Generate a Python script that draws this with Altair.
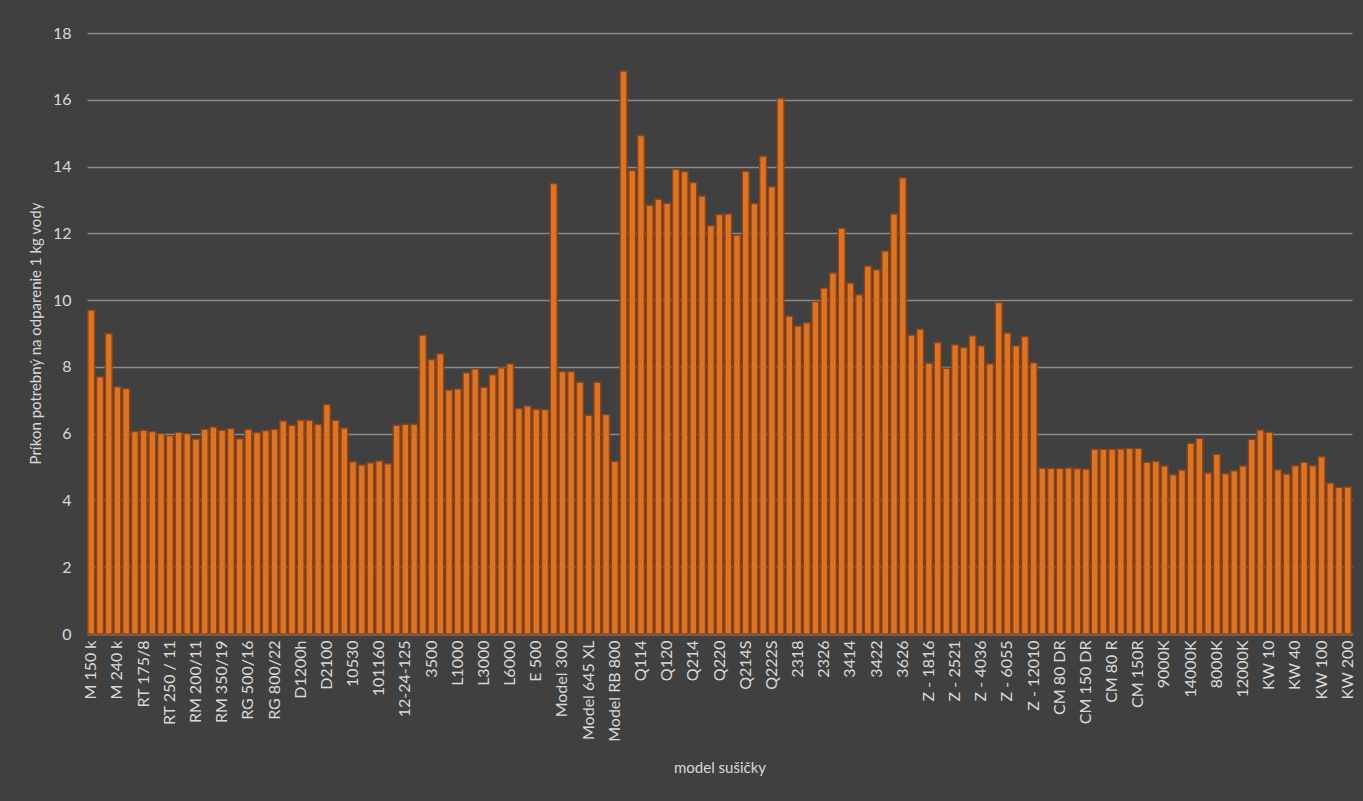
import json
import altair as alt
import pandas as pd

tick_labels = [
    "M 150 k", "M 240 k", "RT 175/8", "RT 250 / 11", "RM 200/11", "RM 350/19",
    "RG 500/16", "RG 800/22", "D1200h", "D2100", "10530", "101160", "12-24-125",
    "3500", "L1000", "L3000", "L6000", "E 500", "Model 300", "Model 645 XL",
    "Model RB 800", "Q114", "Q120", "Q214", "Q220", "Q214S", "Q222S", "2318",
    "2326", "3414", "3422", "3626", "Z - 1816", "Z - 2521", "Z - 4036", "Z - 6055",
    "Z - 12010", "CM 80 DR", "CM 150 DR", "CM 80 R", "CM 150R", "9000K", "14000K",
    "8000K", "12000K", "KW 10", "KW 40", "KW 100", "KW 200",
]

values = [
    9.7, 7.7, 9.0, 7.4, 7.35, 6.06, 6.1, 6.06, 6.0, 5.94,
    6.04, 6.0, 5.84, 6.13, 6.2, 6.1, 6.15, 5.85, 6.13, 6.03,
    6.09, 6.13, 6.38, 6.25, 6.4, 6.4, 6.28, 6.87, 6.4, 6.17,
    5.16, 5.06, 5.13, 5.18, 5.1, 6.25, 6.28, 6.28, 8.95, 8.22,
    8.39, 7.31, 7.34, 7.82, 7.94, 7.39, 7.76, 7.97, 8.09, 6.75,
    6.83, 6.73, 6.72, 13.49, 7.86, 7.86, 7.54, 6.55, 7.54, 6.57,
    5.17, 16.86, 13.88, 14.93, 12.84, 13.02, 12.9, 13.92, 13.85, 13.52,
    13.12, 12.23, 12.56, 12.58, 11.95, 13.86, 12.89, 14.31, 13.39, 16.04,
    9.52, 9.22, 9.32, 9.96, 10.36, 10.81, 12.15, 10.51, 10.16, 11.02,
    10.91, 11.47, 12.58, 13.66, 8.95, 9.13, 8.11, 8.73, 7.96, 8.66,
    8.58, 8.93, 8.63, 8.09, 9.93, 9.01, 8.63, 8.91, 8.12, 4.96,
    4.96, 4.96, 4.97, 4.95, 4.94, 5.53, 5.53, 5.53, 5.54, 5.56,
    5.56, 5.14, 5.17, 5.03, 4.77, 4.91, 5.71, 5.86, 4.82, 5.38,
    4.8, 4.89, 5.03, 5.83, 6.11, 6.04, 4.92, 4.79, 5.04, 5.14,
    5.04, 5.31, 4.52, 4.39, 4.4,
]

df = pd.DataFrame({"i": list(range(len(values))), "v": values})

label_expr = (
    "datum.value % 3 == 0 ? " + json.dumps(tick_labels, ensure_ascii=False)
    + "[datum.value / 3] : ''"
)

FONT = "Lato"
TXT = "#d9d9d9"
GRID = "#8a8a8a"
BG = "#404040"

chart = (
    alt.Chart(df)
    .mark_bar(color="#dc7424", stroke="#8f4212", strokeWidth=1.4)
    .encode(
        x=alt.X(
            "i:O",
            scale=alt.Scale(paddingInner=0.22, paddingOuter=0.1),
            axis=alt.Axis(
                title="model sušičky",
                labelExpr=label_expr,
                values=list(range(0, len(values), 3)),
                labelAngle=270,
                labelColor=TXT,
                labelFont=FONT,
                labelFontSize=16,
                labelPadding=6,
                labelOverlap=False,
                ticks=False,
                domain=True,
                domainColor=GRID,
                domainWidth=1.5,
                titleColor=TXT,
                titleFont=FONT,
                titleFontSize=15,
                titleFontWeight="normal",
                titleY=133,
                titleBaseline="middle",
            ),
        ),
        y=alt.Y(
            "v:Q",
            scale=alt.Scale(domain=[0, 18], nice=False),
            axis=alt.Axis(
                title="Príkon potrebný na odparenie 1 kg vody",
                values=list(range(0, 19, 2)),
                grid=True,
                gridColor=GRID,
                gridWidth=1.5,
                domain=False,
                ticks=False,
                labelColor=TXT,
                labelFont=FONT,
                labelFontSize=16,
                labelPadding=16,
                titleColor=TXT,
                titleFont=FONT,
                titleFontSize=15,
                titleFontWeight="normal",
                titleX=-52,
                titleY=300,
                titleAlign="center",
                titleBaseline="middle",
            ),
        ),
    )
    .properties(
        width=1265,
        height=601,
        background=BG,
        autosize=alt.AutoSizeParams(type="none"),
        padding={"left": 79, "top": 25, "right": 3, "bottom": 150},
    )
    .configure_view(stroke=None)
)

chart.save("out.html", embed_options={"renderer": "svg", "actions": False})

# make the page margin match the chart background
with open("out.html", encoding="utf-8") as f:
    html = f.read()
html = html.replace(
    "</head>",
    "<style>html, body { background: " + BG + "; overflow: hidden; }</style></head>",
    1,
)
with open("out.html", "w", encoding="utf-8") as f:
    f.write(html)
